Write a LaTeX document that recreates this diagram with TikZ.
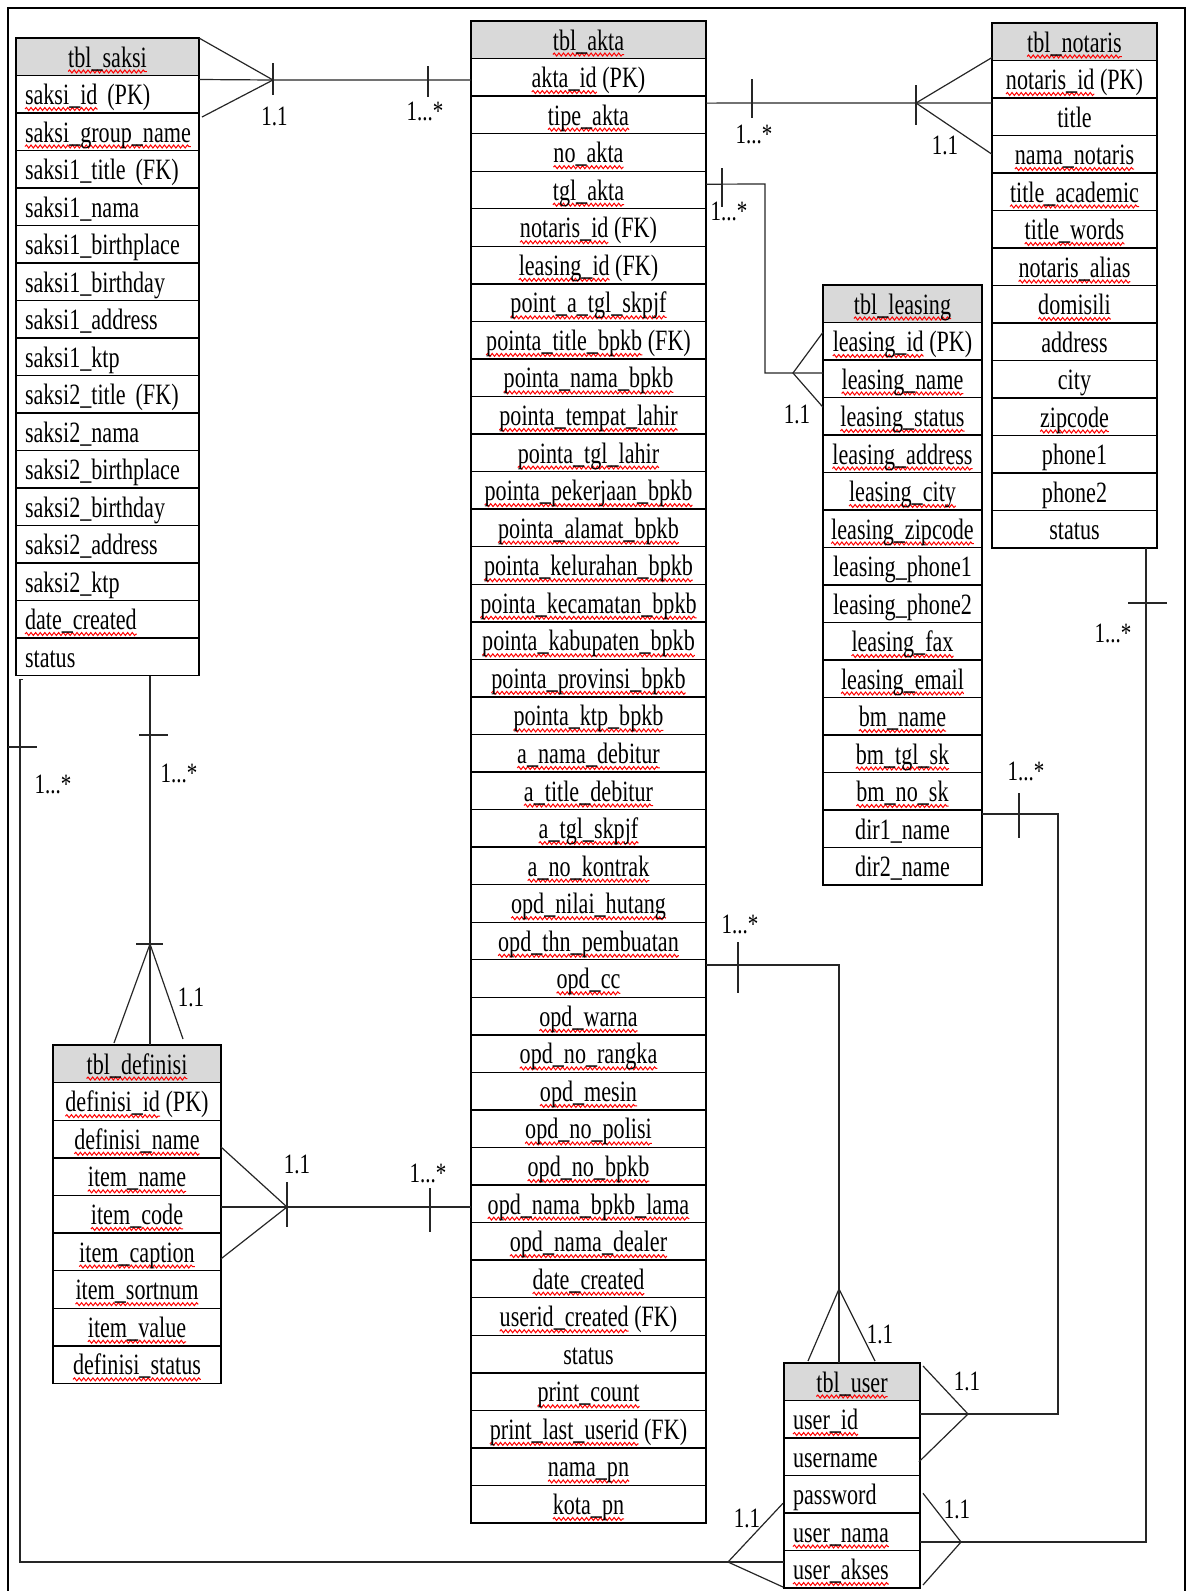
\documentclass[tikz,border=0pt]{standalone}
\usepackage{fontspec}
\setmainfont{Liberation Serif}[FakeStretch=0.75]
\usetikzlibrary{calc,decorations.pathmorphing}
\newlength\sqlen
\newcommand\sq[1]{\settowidth{\sqlen}{#1}\makebox[0pt][l]{\tikz[overlay]\draw[red,line width=1pt,decorate,decoration={snake,amplitude=1.5pt,segment length=4.6pt}] (0pt,-4.5pt) -- (\sqlen,-4.5pt);}#1}
\newcommand\rowfont{\fontsize{29.5pt}{31pt}\selectfont}
\newcommand\labfont{\fontsize{28pt}{30pt}\selectfont}
\tikzset{
  cell/.style={draw,line width=1.4pt,inner sep=0pt,outer sep=0pt,anchor=north west,
    text height=29pt,text depth=8.5pt,font=\rowfont},
  hdr/.style={fill=gray!30},
  ctr/.style={},
  leftsaksi/.style={align=left,text width=165pt},
  leftuser/.style={align=left,text width=118pt},
  conn/.style={line width=1.2pt,black!85},
  lab/.style={font=\labfont,anchor=base,inner sep=0pt}
}
\newcommand\ertable[7]{%
  \foreach \t [count=\i from 0] in {#7}{%
    \ifnum\i=0
      \node[cell,hdr,minimum width=#4pt,minimum height=#5pt] (#1-\i) at (#2,{#3+\i*#5}) {\t};
    \else
      \node[cell,#6,minimum width=#4pt,minimum height=#5pt] (#1-\i) at (#2,{#3+\i*#5}) {\t};
    \fi
  }}
\begin{document}
\begin{tikzpicture}[x=1pt,y=-1pt]
\useasboundingbox (0,0) rectangle (1186,1591);
\clip (0,0) rectangle (1186,1591);
\draw[line width=1.3pt] (8,8) rectangle (1185,1620);

% tables
\ertable{saksi}{16}{38}{183}{37.5}{leftsaksi}{\sq{tbl\_saksi},\sq{saksi\_id} (PK),\sq{saksi\_group\_name},saksi1\_title (FK),saksi1\_nama,saksi1\_birthplace,saksi1\_birthday,saksi1\_address,saksi1\_ktp,saksi2\_title (FK),saksi2\_nama,saksi2\_birthplace,saksi2\_birthday,saksi2\_address,saksi2\_ktp,\sq{date\_created},status}

\ertable{akta}{471}{21}{235}{37.55}{ctr}{\sq{tbl\_akta},\sq{akta\_id} (PK),\sq{tipe\_akta},\sq{no\_akta},\sq{tgl\_akta},\sq{notaris\_id} (FK),\sq{leasing\_id} (FK),\sq{point\_a\_tgl\_skpjf},\sq{pointa\_title\_bpkb} (FK),\sq{pointa\_nama\_bpkb},\sq{pointa\_tempat\_lahir},\sq{pointa\_tgl\_lahir},\sq{pointa\_pekerjaan\_bpkb},\sq{pointa\_alamat\_bpkb},\sq{pointa\_kelurahan\_bpkb},\sq{pointa\_kecamatan\_bpkb},\sq{pointa\_kabupaten\_bpkb},\sq{pointa\_provinsi\_bpkb},\sq{pointa\_ktp\_bpkb},\sq{a\_nama\_debitur},\sq{a\_title\_debitur},\sq{a\_tgl\_skpjf},\sq{a\_no\_kontrak},\sq{opd\_nilai\_hutang},\sq{opd\_thn\_pembuatan},\sq{opd\_cc},\sq{opd\_warna},\sq{opd\_no\_rangka},\sq{opd\_mesin},\sq{opd\_no\_polisi},\sq{opd\_no\_bpkb},\sq{opd\_nama\_bpkb\_lama},\sq{opd\_nama\_dealer},\sq{date\_created},\sq{userid\_created} (FK),status,\sq{print\_count},\sq{print\_last\_userid} (FK),\sq{nama\_pn},\sq{kota\_pn}}

\ertable{notaris}{992}{23}{165}{37.5}{ctr}{\sq{tbl\_notaris},\sq{notaris\_id} (PK),title,\sq{nama\_notaris},\sq{title\_academic},\sq{title\_words},\sq{notaris\_alias},\sq{domisili},address,city,\sq{zipcode},phone1,phone2,status}

\ertable{leasing}{823}{285}{159}{37.5}{ctr}{\sq{tbl\_leasing},\sq{leasing\_id} (PK),\sq{leasing\_name},\sq{leasing\_status},\sq{leasing\_address},\sq{leasing\_city},\sq{leasing\_zipcode},leasing\_phone1,leasing\_phone2,\sq{leasing\_fax},\sq{leasing\_email},\sq{bm\_name},\sq{bm\_tgl\_sk},\sq{bm\_no\_sk},dir1\_name,dir2\_name}

\ertable{definisi}{53}{1045}{168}{37.6}{ctr}{\sq{tbl\_definisi},\sq{definisi\_id} (PK),\sq{definisi\_name},\sq{item\_name},\sq{item\_code},\sq{item\_caption},\sq{item\_sortnum},\sq{item\_value},\sq{definisi\_status}}

\ertable{user}{784}{1363}{136}{37.5}{leftuser}{\sq{tbl\_user},\sq{user\_id},username,password,\sq{user\_nama},\sq{user\_akses}}

% 1 saksi - akta
\coordinate (v1) at (273,80);
\coordinate (t1) at (428,80);
\draw[conn] (saksi-0.north east) -- (v1);
\draw[conn] ($(saksi-1.north east)+(0,4)$) -- (v1) -- (v1 -| akta-1.west);
\draw[conn] ($(saksi-2.north east)+(3,4)$) -- (v1);
\draw[conn] ($(v1)+(0,-17)$) -- ($(v1)+(0,15)$);
\draw[conn] ($(t1)+(0,-14)$) -- ($(t1)+(0,17)$);
\node[lab] (l1a) at (274.5,125) {1.1};
\node[lab] (l1b) at (425,120) {1...*};

% 2 akta - notaris
\coordinate (v2) at (916,103);
\coordinate (t2) at (752,103);
\draw[conn] ($(akta-2.north east)+(0,7)$) -- (v2) -- (v2 -| notaris-2.west);
\draw[conn] ($(notaris-0.south west)+(0,-3)$) -- (v2) -- (notaris-3.west);
\draw[conn] ($(v2)+(0,-18)$) -- ($(v2)+(0,22)$);
\draw[conn] ($(t2)+(0,-24)$) -- ($(t2)+(0,15)$);
\node[lab] (l2a) at (754,143) {1...*};
\node[lab] (l2b) at (945,154) {1.1};

% 3 akta - leasing
\coordinate (b3) at (765,184);
\coordinate (v3) at (793,373);
\coordinate (t3) at (722,184);
\draw[conn] ($(akta-4.north east)+(0,13)$) -- (b3) -- (b3 |- v3) -- (v3) -- (v3 -| leasing-2.west);
\draw[conn] ($(leasing-1.west)+(0,-9)$) -- (v3) -- ($(leasing-3.west)+(0,-9)$);
\draw[conn] ($(t3)+(0,-16)$) -- ($(t3)+(0,23)$);
\node[lab] (l3a) at (729,220) {1...*};
\node[lab] (l3b) at (797,423) {1.1};

% 4 saksi - definisi
\coordinate (v4) at (150,944);
\coordinate (t4) at (153,735);
\draw[conn] (v4 |- saksi-16.south) -- (v4) -- (v4 |- definisi-0.north);
\draw[conn] ($(v4 |- definisi-0.north)+(-36,-2)$) -- (v4) -- ($(v4 |- definisi-0.north)+(33,-6)$);
\draw[conn] ($(t4)+(-14,0)$) -- ($(t4)+(15,0)$);
\draw[conn] ($(v4)+(-14,0)$) -- ($(v4)+(13,0)$);
\node[lab] (l4a) at (179,782) {1...*};
\node[lab] (l4b) at (191,1006) {1.1};

% 5 definisi - akta
\coordinate (v5) at (287,1207);
\coordinate (t5) at (430,1207);
\draw[conn] (v5 -| definisi-4.east) -- (v5) -- (v5 -| akta-31.west);
\draw[conn] ($(definisi-2.east)+(0,8)$) -- (v5) -- ($(definisi-5.east)+(0,7)$);
\draw[conn] ($(v5)+(0,-25)$) -- ($(v5)+(0,20)$);
\draw[conn] ($(t5)+(0,-19)$) -- ($(t5)+(0,25)$);
\node[lab] (l5a) at (297,1173) {1.1};
\node[lab] (l5b) at (428,1182) {1...*};

% 6 akta - user
\coordinate (b6) at (839,965);
\coordinate (v6) at (839,1289);
\coordinate (t6) at (738,965);
\draw[conn] (b6 -| akta-25.east) -- (b6) -- (v6) -- (v6 |- user-0.north);
\draw[conn] ($(v6 |- user-0.north)+(-31,-2)$) -- (v6) -- ($(v6 |- user-0.north)+(36,-2)$);
\draw[conn] ($(t6)+(0,-23)$) -- ($(t6)+(0,28)$);
\node[lab] (l6a) at (740,933) {1...*};
\node[lab] (l6b) at (880,1343) {1.1};

% 7 leasing - user
\coordinate (b7) at (1058,814);
\coordinate (v7) at (968,1414);
\coordinate (t7) at (1019,814);
\draw[conn] (b7 -| leasing-14.east) -- (b7) -- (b7 |- v7) -- (v7) -- (v7 -| user-1.east);
\draw[conn] ($(user-0.north east)+(3,3)$) -- (v7) -- ($(user-2.east)+(-1,5)$);
\draw[conn] ($(t7)+(0,-21)$) -- ($(t7)+(0,24)$);
\node[lab] (l7a) at (1026,780) {1...*};
\node[lab] (l7b) at (967,1390) {1.1};

% 8 notaris - user
\coordinate (b8) at (1146,1542);
\coordinate (v8) at (961,1542);
\coordinate (t8) at (1146,603);
\draw[conn] (b8 |- notaris-13.south) -- (b8) -- (v8) -- (v8 -| user-4.east);
\draw[conn] ($(user-3.east)+(3,-1)$) -- (v8) -- ($(user-5.south east)+(3,-3)$);
\draw[conn] ($(t8)+(-18,0)$) -- ($(t8)+(21,0)$);
\node[lab] (l8a) at (1113,642) {1...*};
\node[lab] (l8b) at (957,1518) {1.1};

% 9 saksi - user
\coordinate (b9) at (20,1562);
\coordinate (v9) at (728,1562);
\coordinate (t9) at (20,747);
\draw[conn] ($(saksi-16.south west)+(7,4)$) -- ($(saksi-16.south west)+(4,4)$) -- (b9) -- (v9) -- (v9 -| user-5.west);
\draw[conn] ($(user-3.west)+(-1,9)$) -- (v9) -- ($(user-5.south west)+(-1,-1)$);
\draw[conn] ($(t9)+(-12,0)$) -- ($(t9)+(17,0)$);
\node[lab] (l9a) at (53,793) {1...*};
\node[lab] (l9b) at (747,1527) {1.1};
\end{tikzpicture}
\end{document}
